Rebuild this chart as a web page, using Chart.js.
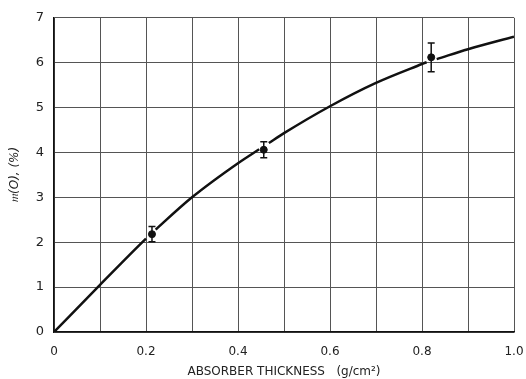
<!DOCTYPE html>
<html>
<head>
<meta charset="utf-8">
<script src="https://cdn.jsdelivr.net/npm/chart.js@4.4.1/dist/chart.umd.min.js"></script>
<style>
  html, body { margin: 0; padding: 0; background: #fff; }
  #wrap { width: 526px; height: 379px; }
</style>
</head>
<body>
<div id="wrap"><canvas id="chart"></canvas></div>
<script>
// smooth fitted curve (breaks where it passes the points)
const curveX = [0, 0.1, 0.2, 0.221, 0.3, 0.4, 0.446, 0.467, 0.5, 0.6, 0.7, 0.8, 0.81, 0.832, 0.9, 1.0];
const curveY = [0, 1.05, 2.08, 2.28, 3.0, 3.76, 4.07, 4.21, 4.43, 5.03, 5.55, 5.97, 6.01, 6.08, 6.3, 6.58];
const gapStarts = [0.2, 0.446, 0.81];

// measured points with error bars
const pointX = [0.213, 0.456, 0.82];
const pointY = [2.18, 4.06, 6.12];
const pointErr = [0.17, 0.18, 0.32];

const xTicks = [0, 0.2, 0.4, 0.6, 0.8, 1.0];

const errorBars = {
  id: "errorBars",
  afterDatasetsDraw(chart) {
    const { ctx, scales: { x, y } } = chart;
    ctx.save();
    ctx.strokeStyle = "#111";
    ctx.lineWidth = 1.5;
    pointX.forEach((px, i) => {
      const cx = x.getPixelForValue(px);
      const top = y.getPixelForValue(pointY[i] + pointErr[i]);
      const bot = y.getPixelForValue(pointY[i] - pointErr[i]);
      ctx.beginPath();
      ctx.moveTo(cx, top); ctx.lineTo(cx, bot);
      ctx.moveTo(cx - 3.5, top); ctx.lineTo(cx + 3.5, top);
      ctx.moveTo(cx - 3.5, bot); ctx.lineTo(cx + 3.5, bot);
      ctx.stroke();
    });
    ctx.restore();
  }
};

const font = { family: "DejaVu Sans", size: 12 };

new Chart(document.getElementById("chart"), {
  type: "scatter",
  data: {
    datasets: [
      {
        type: "line",
        data: curveX.map((v, i) => ({ x: v, y: curveY[i] })),
        borderColor: "#111",
        borderWidth: 2.5,
        pointRadius: 0,
        cubicInterpolationMode: "monotone",
        segment: {
          borderColor: (c) => gapStarts.includes(curveX[c.p0DataIndex]) ? "rgba(0,0,0,0)" : "#111"
        }
      },
      {
        data: pointX.map((v, i) => ({ x: v, y: pointY[i] })),
        backgroundColor: "#111",
        borderColor: "#111",
        pointRadius: 3.5
      }
    ]
  },
  options: {
    responsive: true,
    maintainAspectRatio: false,
    animation: false,
    layout: { padding: { left: 8, right: 12, top: 10, bottom: 0 } },
    plugins: { legend: { display: false }, tooltip: { enabled: false } },
    scales: {
      x: {
        type: "linear",
        min: 0, max: 1,
        afterFit: (s) => { s.height = 47; s.paddingRight = 0; s.paddingLeft = 0; },
        ticks: {
          stepSize: 0.1,
          color: "#222",
          font: font,
          padding: 13,
          maxRotation: 0,
          autoSkip: false,
          callback: (v) => {
            const t = xTicks.find((k) => Math.abs(k - v) < 1e-6);
            if (t === undefined) return "";
            return t === 0 ? "0" : t.toFixed(1);
          }
        },
        grid: { color: "#555", lineWidth: 1, drawTicks: false },
        border: { color: "#111", width: 1.5 },
        title: { display: true, text: "ABSORBER THICKNESS   (g/cm²)", color: "#222", font: font, padding: { top: 0, bottom: 0 } }
      },
      y: {
        min: 0, max: 7,
        afterFit: (s) => { s.width = 46; },
        ticks: { stepSize: 1, color: "#222", font: { family: "DejaVu Sans", size: 13 }, padding: 10 },
        grid: { color: "#555", lineWidth: 1, drawTicks: false },
        border: { color: "#111", width: 1.5 },
        title: { display: true, text: "𝔪(O), (%)", color: "#222", font: { family: "DejaVu Sans", size: 12, style: "italic" }, padding: { top: 0, bottom: 4 } }
      }
    }
  },
  plugins: [errorBars]
});
</script>
</body>
</html>
